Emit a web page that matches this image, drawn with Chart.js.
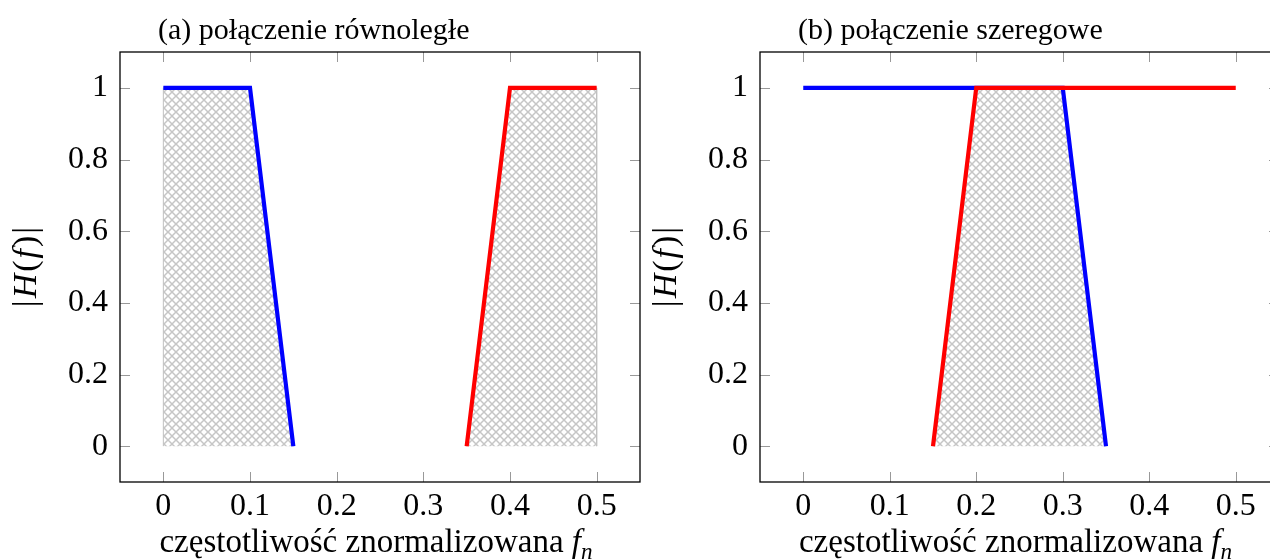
<!DOCTYPE html>
<html>
<head>
<meta charset="utf-8">
<script src="https://cdn.jsdelivr.net/npm/chart.js@4.4.0/dist/chart.umd.min.js"></script>
<style>
html, body { margin: 0; padding: 0; background: #fff; overflow: hidden; width: 1270px; height: 560px; }
.box { position: absolute; top: 0; height: 560px; }
#boxA { left: 0; width: 650px; }
#boxB { left: 640px; width: 660px; }
</style>
</head>
<body>
<div class="box" id="boxA"><canvas id="chartA" width="650" height="560"></canvas></div>
<div class="box" id="boxB"><canvas id="chartB" width="660" height="560"></canvas></div>
<script>
const xTicks = [0, 0.1, 0.2, 0.3, 0.4, 0.5];
const yTicks = [0, 0.2, 0.4, 0.6, 0.8, 1];

// (a) parallel connection
const lowA_f = [0, 0.1, 0.15];
const lowA_h = [1, 1, 0];
const highA_f = [0.35, 0.4, 0.5];
const highA_h = [0, 1, 1];
// hatched passbands (a)
const bandA1_f = [0, 0, 0.1, 0.15];
const bandA1_h = [0, 1, 1, 0];
const bandA2_f = [0.35, 0.4, 0.5, 0.5];
const bandA2_h = [0, 1, 1, 0];

// (b) series connection
const lowB_f = [0, 0.3, 0.35];
const lowB_h = [1, 1, 0];
const highB_f = [0.15, 0.2, 0.5];
const highB_h = [0, 1, 1];
// hatched passband (b)
const bandB_f = [0.15, 0.2, 0.3, 0.35];
const bandB_h = [0, 1, 1, 0];

const FONT = '"Liberation Serif", "DejaVu Serif", serif';

function pts(xs, ys) {
    return xs.map((v, i) => ({ x: v, y: ys[i] }));
}

// crosshatch pattern
const pc = document.createElement('canvas');
pc.width = 8; pc.height = 8;
const pctx = pc.getContext('2d');
pctx.strokeStyle = '#c6c6c6';
pctx.lineWidth = 1.5;
pctx.beginPath();
pctx.moveTo(-1, -1); pctx.lineTo(9, 9);
pctx.moveTo(9, -1); pctx.lineTo(-1, 9);
pctx.stroke();
const hatch = pctx.createPattern(pc, 'repeat');

function drawRuns(ctx, runs, size, cx, cy, gap) {
    gap = gap || 0;
    const fontOf = r => (r.i ? 'italic ' : '') + (r.sub ? size * 0.7 : size) + 'px ' + FONT;
    let total = 0;
    runs.forEach(r => { ctx.font = fontOf(r); total += ctx.measureText(r.t).width + gap; });
    total -= gap;
    let x = cx - total / 2;
    runs.forEach(r => {
        ctx.font = fontOf(r);
        ctx.fillText(r.t, x, cy + (r.sub ? size * 0.22 : 0));
        x += ctx.measureText(r.t).width + gap;
    });
}

const framePlugin = {
    id: 'frame',
    afterDraw(chart, args, opts) {
        const { ctx, chartArea: a, scales: { x, y } } = chart;
        ctx.save();
        ctx.strokeStyle = '#999';
        ctx.lineWidth = 1;
        ctx.beginPath();
        x.ticks.forEach(t => {
            const px = Math.round(x.getPixelForValue(t.value)) + 0.5;
            ctx.moveTo(px, a.bottom); ctx.lineTo(px, a.bottom - 10);
            ctx.moveTo(px, a.top); ctx.lineTo(px, a.top + 10);
        });
        y.ticks.forEach(t => {
            const py = Math.round(y.getPixelForValue(t.value)) + 0.5;
            ctx.moveTo(a.left, py); ctx.lineTo(a.left + 10, py);
            ctx.moveTo(a.right, py); ctx.lineTo(a.right - 10, py);
        });
        ctx.stroke();
        ctx.strokeStyle = '#000';
        ctx.lineWidth = 1.3;
        ctx.strokeRect(a.left, a.top, a.width, a.height);

        ctx.fillStyle = '#000';
        ctx.textBaseline = 'alphabetic';
        ctx.textAlign = 'left';
        ctx.font = '30px ' + FONT;
        ctx.fillText(opts.title, a.left + 38, 39);

        drawRuns(ctx, [
            { t: 'częstotliwość znormalizowana ' },
            { t: 'f', i: true },
            { t: 'n', i: true, sub: true }
        ], 33, (a.left + a.right) / 2 - 4, 552);

        ctx.translate(a.left - 93, (a.top + a.bottom) / 2);
        ctx.rotate(-Math.PI / 2);
        ctx.textBaseline = 'middle';
        drawRuns(ctx, [
            { t: '|' }, { t: 'H', i: true }, { t: '(' }, { t: 'f', i: true }, { t: ')' }, { t: '|' }
        ], 34, 0, 0, 2);
        ctx.restore();
    }
};

function lineSet(xs, ys, color) {
    return {
        data: pts(xs, ys),
        showLine: true,
        borderColor: color,
        borderWidth: 4.2,
        borderCapStyle: 'butt',
        borderJoinStyle: 'miter',
        pointRadius: 0,
        tension: 0,
        fill: false
    };
}

function bandSet(xs, ys) {
    return {
        data: pts(xs, ys),
        showLine: true,
        borderColor: '#c0c0c0',
        borderWidth: 1,
        pointRadius: 0,
        tension: 0,
        fill: 'origin',
        backgroundColor: hatch
    };
}

function makeOptions(title, padRight) {
    return {
        responsive: false,
        animation: false,
        layout: { padding: { top: 52, right: padRight, left: 0, bottom: 0 } },
        plugins: {
            legend: { display: false },
            tooltip: { enabled: false },
            frame: { title: title }
        },
        scales: {
            x: {
                type: 'linear',
                min: -0.05,
                max: 0.55,
                grid: { display: false, drawTicks: false },
                border: { display: false },
                afterBuildTicks: s => { s.ticks = xTicks.map(v => ({ value: v })); },
                afterFit: s => { s.height = 78; },
                ticks: {
                    color: '#000',
                    font: { family: FONT, size: 32 },
                    padding: 5,
                    maxRotation: 0,
                    callback: v => String(Math.round(v * 10) / 10)
                }
            },
            y: {
                type: 'linear',
                min: -0.1,
                max: 1.1,
                grid: { display: false, drawTicks: false },
                border: { display: false },
                afterBuildTicks: s => { s.ticks = yTicks.map(v => ({ value: v })); },
                afterFit: s => { s.width = 120; },
                ticks: {
                    color: '#000',
                    font: { family: FONT, size: 32 },
                    padding: 12,
                    callback: v => String(Math.round(v * 10) / 10)
                }
            }
        }
    };
}

// first dataset is painted last (on top)
new Chart(document.getElementById('chartA'), {
    type: 'scatter',
    data: {
        datasets: [
            lineSet(highA_f, highA_h, '#ff0000'),
            lineSet(lowA_f, lowA_h, '#0000ff'),
            bandSet(bandA2_f, bandA2_h),
            bandSet(bandA1_f, bandA1_h)
        ]
    },
    options: makeOptions('(a) połączenie równoległe', 10),
    plugins: [framePlugin]
});

new Chart(document.getElementById('chartB'), {
    type: 'scatter',
    data: {
        datasets: [
            lineSet(highB_f, highB_h, '#ff0000'),
            lineSet(lowB_f, lowB_h, '#0000ff'),
            bandSet(bandB_f, bandB_h)
        ]
    },
    options: makeOptions('(b) połączenie szeregowe', 21),
    plugins: [framePlugin]
});
</script>
</body>
</html>
